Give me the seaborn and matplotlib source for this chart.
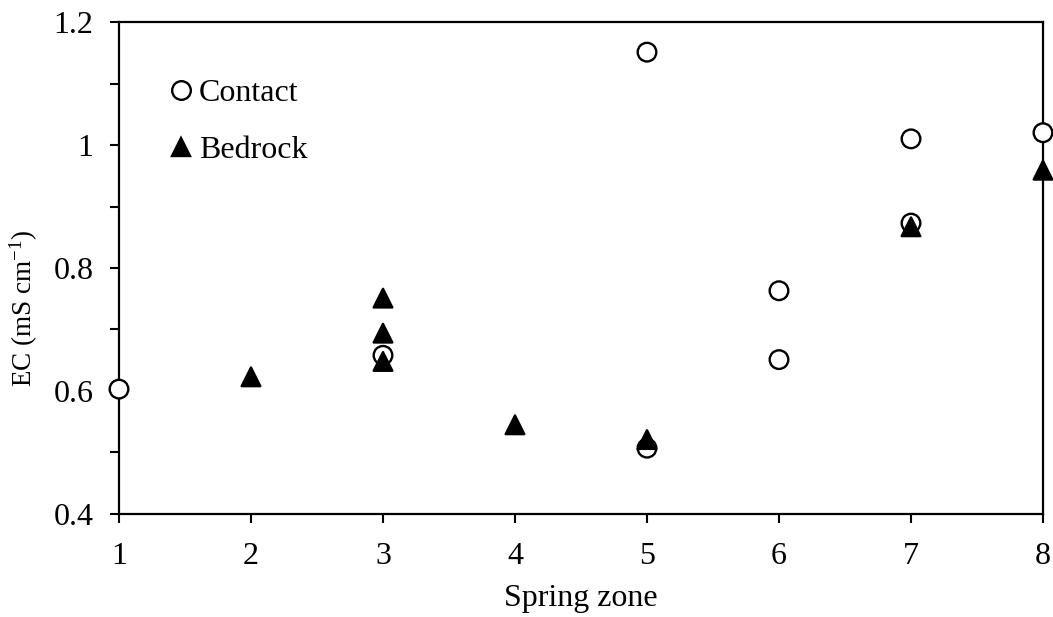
import matplotlib
matplotlib.use("Agg")
import matplotlib.pyplot as plt
import seaborn as sns
import pandas as pd
from matplotlib.ticker import MultipleLocator

# Electrical conductivity by spring zone
contact_zone = [1, 3, 5, 5, 6, 6, 7, 7, 8]
contact_ec = [0.603, 0.658, 1.151, 0.507, 0.763, 0.651, 1.010, 0.873, 1.020]

bedrock_zone = [2, 3, 3, 3, 4, 5, 7, 8]
bedrock_ec = [0.623, 0.751, 0.694, 0.648, 0.545, 0.521, 0.867, 0.959]

x_ticks = [1, 2, 3, 4, 5, 6, 7, 8]
y_ticks = [0.4, 0.6, 0.8, 1.0, 1.2]
y_tick_labels = ["0.4", "0.6", "0.8", "1", "1.2"]

df = pd.DataFrame({
    "zone": contact_zone + bedrock_zone,
    "ec": contact_ec + bedrock_ec,
    "type": ["Contact"] * len(contact_zone) + ["Bedrock"] * len(bedrock_zone),
})

sns.set_theme(style="ticks")
plt.rcParams["font.family"] = ["Liberation Serif", "DejaVu Serif"]
plt.rcParams["mathtext.fontset"] = "custom"
plt.rcParams["mathtext.rm"] = "Liberation Serif"
plt.rcParams["mathtext.it"] = "Liberation Serif:italic"
plt.rcParams["text.color"] = "black"
plt.rcParams["axes.labelcolor"] = "black"

fig = plt.figure(figsize=(10.53, 6.17), dpi=100)
ax = fig.add_axes([0.113, 0.167, 0.8775, 0.7973])

sns.scatterplot(
    data=df, x="zone", y="ec", hue="type", style="type",
    palette={"Contact": "white", "Bedrock": "black"},
    markers={"Contact": "o", "Bedrock": "^"},
    hue_order=["Contact", "Bedrock"], style_order=["Contact", "Bedrock"],
    s=180, edgecolor="black", linewidth=1.7, ax=ax,
)
for coll in ax.collections:
    coll.set_clip_on(False)
    coll.set_zorder(5)

ax.set_xlim(1, 8)
ax.set_ylim(0.4, 1.2)
ax.set_xticks(x_ticks)
ax.set_xticklabels([str(t) for t in x_ticks])
ax.set_yticks(y_ticks)
ax.set_yticklabels(y_tick_labels)
ax.yaxis.set_minor_locator(MultipleLocator(0.1))

ax.set_xlabel("Spring zone", fontsize=23, labelpad=9)
ax.set_ylabel(r"EC (mS cm$^{\mathrm{-1}}$)", fontsize=19.5, labelpad=12)
ax.yaxis.set_label_coords(-0.085, 0.419)

ax.tick_params(axis="x", which="major", direction="out", length=6.5, width=1.5,
               labelsize=23, colors="black", pad=14)
ax.tick_params(axis="y", which="major", direction="out", length=6.5, width=1.5,
               labelsize=23, colors="black", pad=12)
ax.tick_params(axis="y", which="minor", direction="out", length=6.5, width=1.5,
               colors="black")
for sp in ax.spines.values():
    sp.set_visible(True)
    sp.set_linewidth(1.6)
    sp.set_color("black")

handles, labels = ax.get_legend_handles_labels()
ax.legend(handles, labels, loc="upper left", bbox_to_anchor=(0.05, 0.885),
          frameon=False, fontsize=23, handlelength=1.0, handletextpad=0.05,
          labelspacing=0.86, markerscale=1.0, borderaxespad=0, borderpad=0)

fig.savefig("out.png", dpi=100)
